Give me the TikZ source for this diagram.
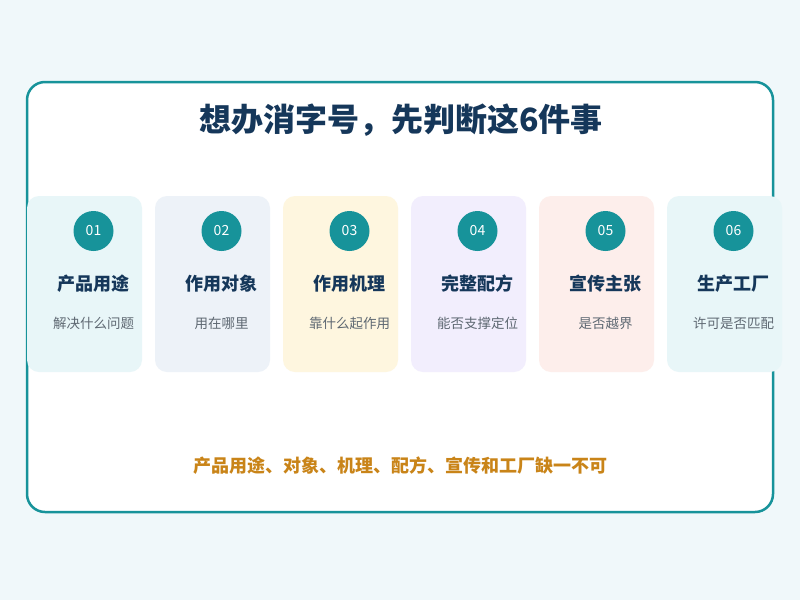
\documentclass[tikz,border=0pt]{standalone}
\usepackage{fontspec}
\setmainfont{Noto Sans CJK SC}
\definecolor{bgc}{HTML}{F0F8FA}
\definecolor{teal}{HTML}{17939A}
\definecolor{navy}{HTML}{15375A}
\definecolor{subgray}{HTML}{5E6872}
\definecolor{orangec}{HTML}{C98418}
\definecolor{cA}{HTML}{E8F6F8}
\definecolor{cB}{HTML}{EDF2F8}
\definecolor{cC}{HTML}{FEF6DF}
\definecolor{cD}{HTML}{F2EEFD}
\definecolor{cE}{HTML}{FDEEEB}
\definecolor{cF}{HTML}{E8F6F8}
\begin{document}
\begin{tikzpicture}[x=1pt,y=-1pt,
  cardbox/.style={draw=none,rounded corners=12pt,minimum width=115pt,minimum height=176pt,inner sep=0pt},
  numcirc/.style={circle,fill=teal,minimum size=40pt,inner sep=0pt,text=white,font=\fontsize{14}{16}\selectfont},
  cardtitle/.style={text=navy,font=\fontsize{18}{20}\selectfont\bfseries},
  cardsub/.style={text=subgray,font=\fontsize{13.5}{15}\selectfont}]
\fill[bgc] (0,0) rectangle (800,600);
\useasboundingbox (0,0) rectangle (800,600);
\draw[teal,line width=2.5pt,fill=white,rounded corners=18pt] (27,82) rectangle (773,512);
\node[text=navy,font=\fontsize{32}{36}\selectfont\bfseries] (title) at (401,120) {想办消字号，先判断这6件事};
\foreach \i/\c/\t/\s in {1/cA/产品用途/解决什么问题,2/cB/作用对象/用在哪里,3/cC/作用机理/靠什么起作用,4/cD/完整配方/能否支撑定位,5/cE/宣传主张/是否越界,6/cF/生产工厂/许可是否匹配}{
  \pgfmathsetmacro{\cx}{84.5+128*(\i-1)}
  \pgfmathsetmacro{\tx}{93.5+128*(\i-1)}
  \node[cardbox,fill=\c] (card\i) at (\cx,284) {};
  \node[numcirc] (num\i) at (\tx,231) {0\i};
  \node[cardtitle] (ttl\i) at (\tx,284) {\t};
  \node[cardsub] (sub\i) at (\tx,323) {\s};
}
\node[text=orangec,font=\fontsize{18}{20}\selectfont\bfseries] (foot) at (400,466) {产品用途、对象、机理、配方、宣传和工厂缺一不可};
\end{tikzpicture}
\end{document}
